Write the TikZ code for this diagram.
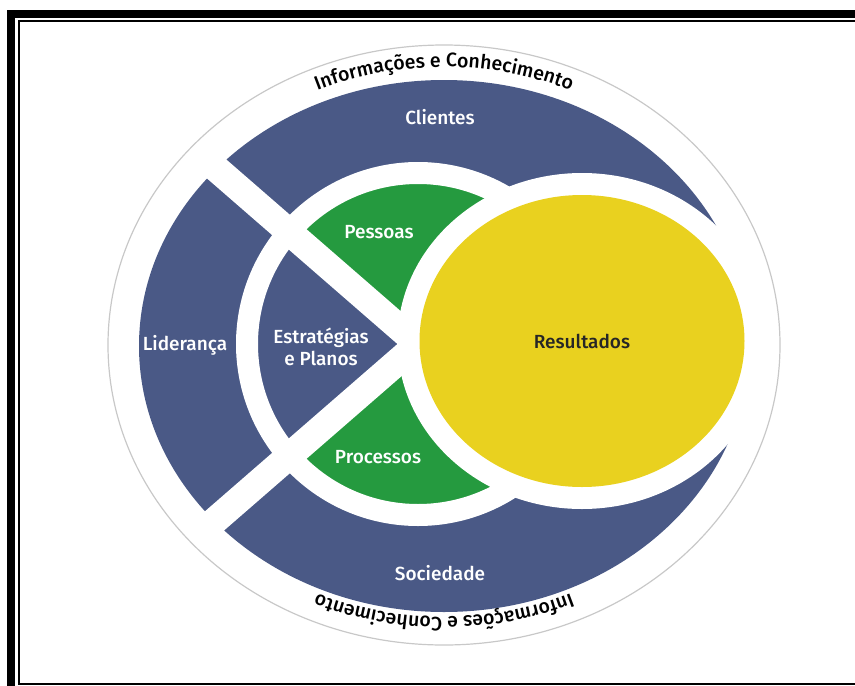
\documentclass[tikz,border=0pt]{standalone}
\usepackage{fontspec}
\setmainfont{Fira Sans}
\newfontfamily\labelfont{Fira Sans Medium}
\usetikzlibrary{shapes.geometric}
\usetikzlibrary{decorations.text}
\definecolor{pnqblue}{HTML}{4A5986}
\definecolor{pnqgreen}{HTML}{259A3F}
\definecolor{pnqyellow}{HTML}{E9D11F}
\definecolor{rimgrey}{HTML}{C8C8C8}
\newcommand{\lblfont}{\labelfont\fontsize{19}{22}\selectfont}
\newcommand{\arcfont}{\labelfont\fontsize{19.5}{22}\selectfont}
\newcommand{\wnode}{\node[text=white,font=\lblfont,align=center]}
\tikzset{whitestrip/.style={draw=white,line width=27pt},
  arctext/.style={decorate,decoration={text along path,text align=center,
    text={|\arcfont|Informações e Conhecimento}}}}

\begin{document}
\begin{tikzpicture}[x=1pt,y=1pt]
  \useasboundingbox (0,0) rectangle (855,-686);
  % frame
  \draw[line width=8pt] (11,-686) -- (11,-14) -- (855,-14);
  \draw[line width=2pt] (855,-21) -- (19,-21) -- (19,-684) -- (855,-684);
  \coordinate (mid) at (444,-345);
  \coordinate (ctr) at (418,-344);
  \draw[rimgrey,line width=1.2pt] (mid) ellipse [x radius=336pt, y radius=300pt];
  \fill[pnqblue] (444,-346) ellipse [x radius=305pt, y radius=266pt];
  % inner circle
  \fill[pnqgreen] (ctr) circle [radius=171pt];
  \fill[pnqblue] (ctr) -- ++(139:171) arc [start angle=139, end angle=221, radius=171pt] -- cycle;
  \draw[white,line width=22pt] (ctr) circle [radius=171pt];
  \draw[whitestrip] (ctr) -- ++(139:290);
  \draw[whitestrip] (ctr) -- ++(221:290);
  \node[ellipse,fill=pnqyellow,minimum width=325pt,minimum height=292pt,inner sep=0pt,
    preaction={draw=white,line width=44pt},font=\lblfont,text=black!85] (res) at (582,-341) {Resultados};
  \wnode (cli) at (440,-117) {Clientes};
  \wnode (lid) at (185,-345) {Liderança};
  \wnode (est) at (321,-347) {Estratégias\\e Planos};
  \wnode (pes) at (379,-232) {Pessoas};
  \wnode (pro) at (378,-457) {Processos};
  \wnode (soc) at (440,-573) {Sociedade};
  % outer text
  \path[arctext] (mid) ++(150:314 and 278) arc [start angle=150, end angle=30, x radius=314pt, y radius=278pt];
  \path[arctext] (mid) ++(-30:314 and 272) arc [start angle=-30, end angle=-150, x radius=314pt, y radius=272pt];
\end{tikzpicture}
\end{document}
